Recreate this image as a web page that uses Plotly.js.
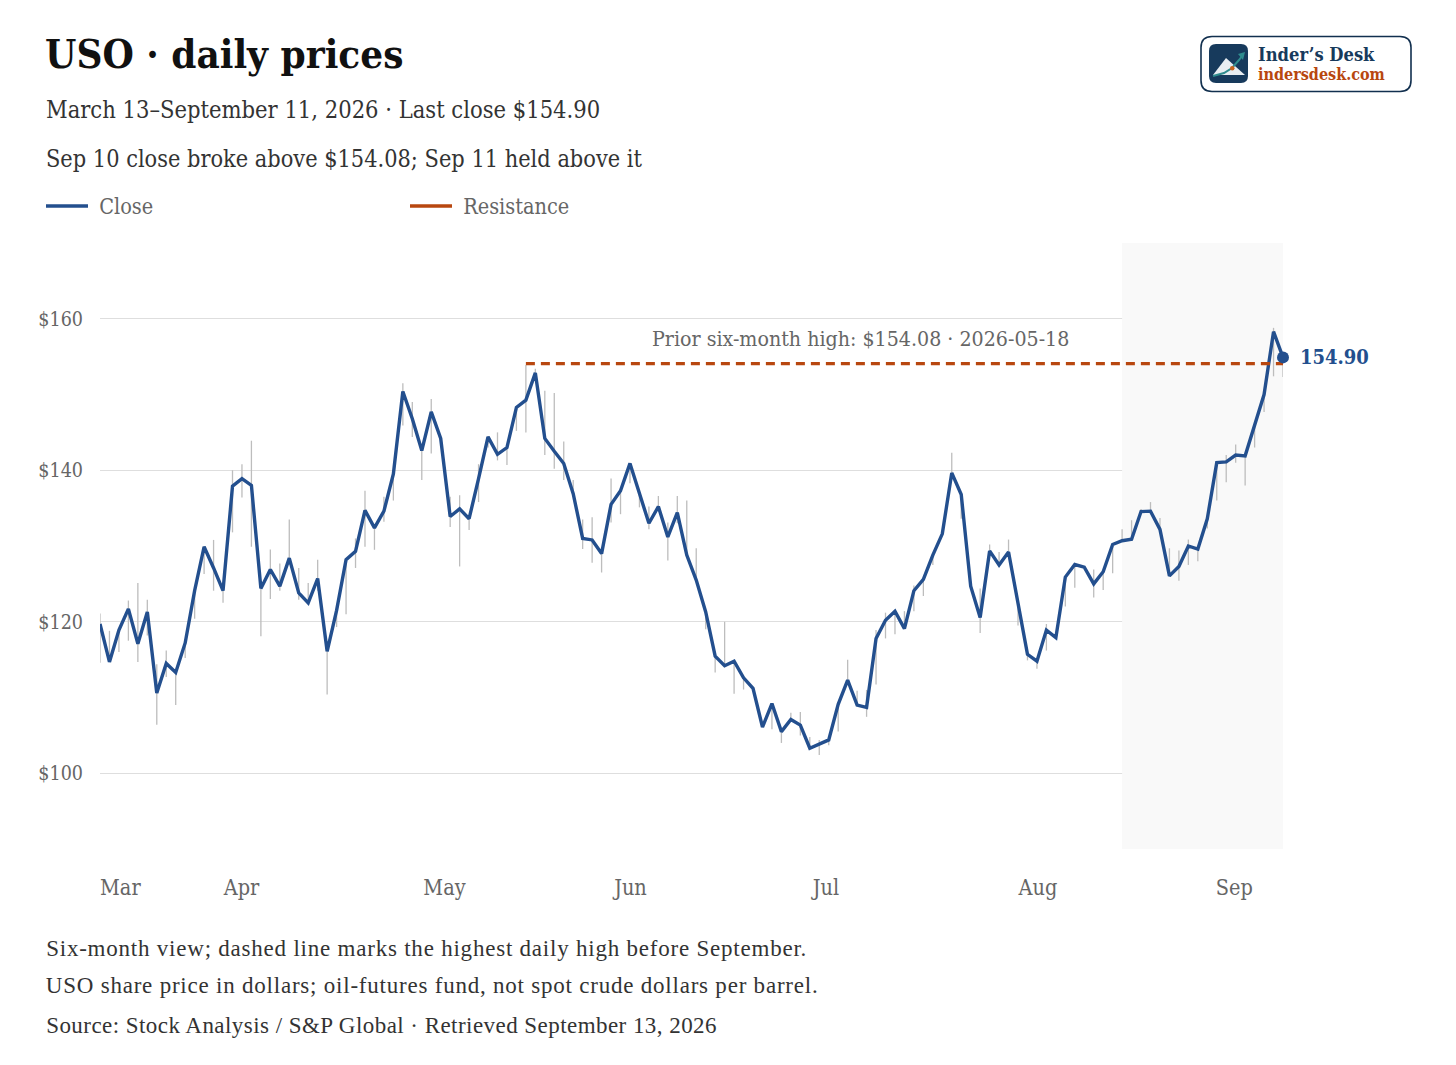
<!DOCTYPE html>
<html><head><meta charset="utf-8">
<script src="https://cdn.plot.ly/plotly-3.0.1.min.js"></script>
<style>html,body{margin:0;padding:0;background:#fff}
.annotation[data-index="2"] text,.annotation[data-index="3"] text{letter-spacing:.78px}
.annotation[data-index="4"] text{letter-spacing:.45px}
</style></head>
<body><div id="chart" style="width:1456px;height:1065px"></div>
<script>
const closeValues=[119.7,114.7,118.9,121.7,117.1,121.3,110.6,114.5,113.3,117.2,
124.1,129.9,127.1,124.1,137.9,138.9,138.0,124.4,126.9,124.7,
128.4,123.8,122.5,125.7,116.1,121.5,128.2,129.3,134.7,132.4,
134.6,139.5,150.4,146.8,142.6,147.7,144.2,133.9,134.9,133.6,
138.9,144.4,142.1,143.0,148.3,149.25,152.85,144.2,142.5,140.9,
136.9,131.0,130.8,129.0,135.5,137.3,140.9,136.9,133.0,135.2,
131.2,134.4,128.8,125.5,121.3,115.45,114.2,114.8,112.6,111.2,
106.1,109.2,105.5,107.1,106.35,103.3,103.9,104.4,109.1,112.3,
109.0,108.7,117.8,120.2,121.4,119.1,124.1,125.6,128.8,131.6,
139.65,136.8,124.7,120.55,129.35,127.5,129.2,122.4,115.7,114.8,
118.9,117.9,125.9,127.55,127.2,125.0,126.6,130.2,130.7,130.9,
134.55,134.6,132.2,126.05,127.3,130.0,129.6,133.6,141.0,141.1,
142.0,141.9,146.1,150.0,158.3,154.9];
const highValues=[121.1,118.8,118.9,122.8,125.1,122.9,114.4,116.2,113.3,117.2,
124.1,130,130.8,124.1,140,140.8,143.9,124.4,129.55,127.7,
133.5,127.1,125.1,128.2,116.1,121.5,128.2,131,137.3,132.4,
136.5,139.5,151.5,149,142.6,149.4,144.2,136.5,136.7,133.6,
140.8,144.5,145,143,148.3,153.9,153.4,150.5,150.2,143.8,
138.7,133.5,133.8,129,138.9,137.3,140.9,136.9,135.2,136.6,
133.1,136.6,136,129.7,121.3,115.45,120,114.8,112.6,111.2,
106.1,109.2,105.5,108,108.1,104.8,104.4,104.4,109.1,115,
110.9,111,118.9,121.2,121.4,121.4,124.8,125.6,128.8,131.6,
142.3,136.8,124.7,124.4,130.2,129.2,130.85,122.4,115.7,114.8,
119.7,117.9,125.9,127.55,127.2,126.9,126.6,130.2,132.2,133.4,
134.9,135.8,133.7,129.7,129.4,130.85,129.6,133.6,141,142,
143.4,141.9,146.1,150,158.8,155.6];
const lowValues=[114.6,114.7,116,117.5,114.7,118.2,106.4,112.7,109,115.2,
120.4,126.3,124.1,122.5,131.8,136.4,129.9,118.1,123,124.1,
127.5,122.9,122.5,124.1,110.4,119.3,121,127.1,129.9,129.5,
133.2,136,145.9,144.4,138.7,142.2,144,132.5,127.3,132.1,
135.8,143,141.3,140.7,145.2,145,152.8,142,140.2,138.7,
136.9,129.6,127.8,126.5,133.1,134.2,138.3,135.1,132.2,135.2,
128.1,133,128.8,125.5,119,113.3,114.2,110.5,111.05,111.2,
106.1,105.8,104,107.1,105,103.3,102.4,103.7,105.5,112.3,
109,107.45,111.7,117.8,118.35,119.1,121.4,123.4,127.5,131.6,
139.65,133.6,124.7,118.5,129.35,127.5,129.2,119.5,114.9,113.8,
116.2,117.9,122,124.5,127.2,123.2,124.2,126.4,130.7,130.9,
134.55,134.6,132.2,126.05,125.4,127.5,128,132.3,136,138.4,
141,138,143,147.7,152.4,152.3];
const tickLabels=['Mar','Apr','May','Jun','Jul','Aug','Sep'];
const monthStartIndex=[0,13,34,54,75,97,118];
const labelCentreOffset=[2.15,1.95,2.4,2.05,1.7,2.1,1.85];
const yTicks=[100,120,140,160];
const yTickLabels=['$100','$120','$140','$160'];
const resistanceLevel=154.08;
const resistanceStartIndex=45;
const shadeStartIndex=108;

const BLUE='#234f8e',ORANGE='#b8470f',GREY='#666666',DARK='#333333';
const SLAB='"DejaVu Serif Condensed", "DejaVu Serif", serif', SERIF='"Liberation Serif", serif';
const L=100,R=1283,T=243,B=849;
const px=x=>(x-L)/(R-L), py=y=>(B-y)/(B-T);
const idx=closeValues.map((_,i)=>i);

const wickX=[],wickY=[];
idx.forEach(i=>{wickX.push(i,i,null);wickY.push(lowValues[i],highValues[i],null);});

const last=idx.length-1;
const yRange=[90,170];
const traces=[
 {x:[shadeStartIndex,last,last,shadeStartIndex],y:[yRange[0],yRange[0],yRange[1],yRange[1]],mode:'lines',fill:'toself',
  fillcolor:'#f9f9f9',line:{width:0,color:'#f9f9f9'},showlegend:false,hoverinfo:'skip',name:'Recent window'},
 {x:wickX,y:wickY,mode:'lines',line:{color:'#bdbdbd',width:1.3},showlegend:false,hoverinfo:'skip',name:'High–low'},
 {x:idx,y:closeValues,mode:'lines',name:'\u00a0Close',line:{color:BLUE,width:3.4,shape:'linear'}},
 {x:[null],y:[null],mode:'lines',name:'\u00a0Resistance',line:{color:ORANGE,width:3.4}},
 {x:[resistanceStartIndex,last],y:[resistanceLevel,resistanceLevel],mode:'lines',name:'Resistance level',showlegend:false,
  line:{color:ORANGE,width:3.4,dash:'9px,6px'}},
 {x:[last],y:[closeValues[last]],mode:'markers',marker:{color:BLUE,size:12},showlegend:false,cliponaxis:false,name:'Last close'}
];

function txt(text,x,y,size,color,font,extra){
 return Object.assign({text:text,xref:'paper',yref:'paper',x:px(x-2),y:py(y),xanchor:'left',yanchor:'middle',
  showarrow:false,font:{size:size,color:color,family:font}},extra||{});
}
function poly(pts,close){
 return 'M'+pts.map(p=>px(p[0])+','+py(p[1])).join(' L')+(close?' Z':'');
}
function rrect(x0,y0,x1,y1,r){
 const rx=r/(R-L),ry=r/(B-T);
 const a=px(x0),b=px(x1),c=py(y0),d=py(y1);
 return `M${a+rx},${c} L${b-rx},${c} Q${b},${c} ${b},${c-ry} L${b},${d+ry} Q${b},${d} ${b-rx},${d} L${a+rx},${d} Q${a},${d} ${a},${d+ry} L${a},${c-ry} Q${a},${c} ${a+rx},${c} Z`;
}
const pshape=(path,fill,line,w)=>({type:'path',xref:'paper',yref:'paper',path:path,fillcolor:fill,line:{color:line||fill,width:w===undefined?0:w},layer:'above'});

const shapes=[
 pshape(rrect(1201,36.5,1411,91.5,11),'#ffffff','#12304f',1.6),
 pshape(rrect(1209,44,1248,83,7),'#173a5c'),
 pshape(poly([[1213,75],[1226,58],[1245,75]],true),'#e9eef2'),
 pshape(poly([[1213,76],[1224,73],[1232,68],[1239,60],[1242,56]]),'rgba(0,0,0,0)','#2f8c8e',2),
 pshape(poly([[1245,52],[1238,54],[1243,60]],true),'#2f8c8e'),
 {type:'circle',xref:'paper',yref:'paper',x0:px(1230),x1:px(1234.5),y0:py(70.5),y1:py(66),fillcolor:'#c8641e',line:{width:0},layer:'above'}
];

const annotations=[
 txt('March 13–September 11, 2026 · Last close $154.90',46,110,23.5,DARK,SLAB),
 txt('Sep 10 close broke above $154.08; Sep 11 held above it',46,158.5,23.3,DARK,SLAB),
 txt('Six-month view; dashed line marks the highest daily high before September.',46,948,23,DARK,SERIF,{xshift:29}),
 txt('USO share price in dollars; oil-futures fund, not spot crude dollars per barrel.',46,986,23,DARK,SERIF,{xshift:31}),
 txt('Source: Stock Analysis / S&P Global · Retrieved September 13, 2026',46,1025,23,DARK,SERIF,{xshift:15}),
 txt('Prior six-month high: $154.08 · 2026-05-18',652,338,21.2,GREY,SLAB),
 {text:'<b>154.90</b>',xref:'x',yref:'y',x:last,y:closeValues[last],xanchor:'left',yanchor:'middle',xshift:15,showarrow:false,
  font:{size:20,color:BLUE,family:SLAB}},
 txt('<b>Inder’s Desk</b>',1258,54.7,18.2,'#173a5c',SLAB),
 txt('<b>indersdesk.com</b>',1258,74.7,16,ORANGE,SLAB)
];

const layout={
 width:1456,height:1065,autosize:false,
 paper_bgcolor:'#ffffff',plot_bgcolor:'#ffffff',
 margin:{l:L,r:1456-R,t:T,b:1065-B,pad:0},
 title:{text:'<b>USO · daily prices</b>',xref:'container',yref:'container',x:45/1456,xanchor:'left',y:1-54/1065,yanchor:'middle',
  font:{size:40,color:'#111111',family:SLAB}},
 showlegend:true,
 legend:{orientation:'h',x:px(41),xanchor:'left',y:py(206),yanchor:'middle',itemwidth:42,
  entrywidth:307,entrywidthmode:'pixels',font:{size:21.5,color:GREY,family:SLAB},traceorder:'normal',itemclick:false,itemdoubleclick:false},
 xaxis:{type:'linear',range:[0,last],showgrid:false,zeroline:false,showline:false,ticks:'',
  tickmode:'array',tickvals:monthStartIndex.map((m,i)=>m+labelCentreOffset[i]),ticktext:tickLabels,
  ticklabelstandoff:23,tickfont:{size:21.5,color:GREY,family:SLAB}},
 yaxis:{type:'linear',range:yRange,showgrid:true,gridcolor:'#dedede',gridwidth:1.4,zeroline:false,showline:false,ticks:'',
  tickmode:'array',tickvals:yTicks,ticktext:yTickLabels,ticklabelstandoff:16,tickfont:{size:19.5,color:GREY,family:SLAB}},
 shapes:shapes,annotations:annotations,hovermode:false
};
Plotly.newPlot('chart',traces,layout,{displayModeBar:false,responsive:false});
</script></body></html>
